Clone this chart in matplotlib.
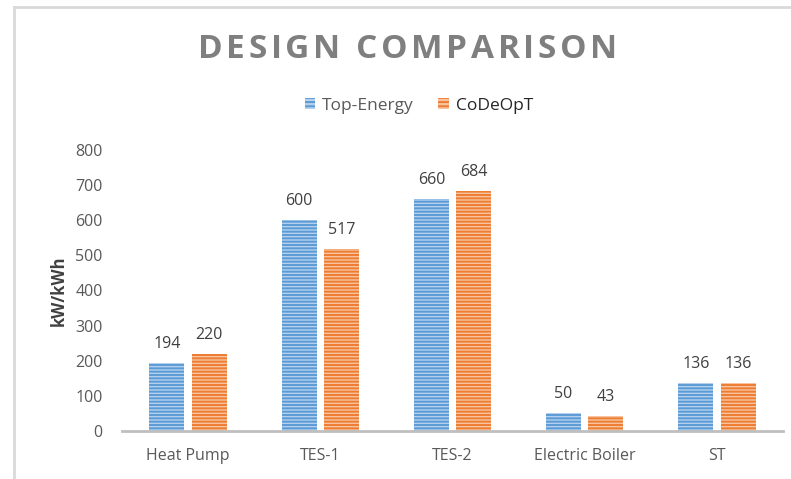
import matplotlib
matplotlib.use("Agg")
import matplotlib.pyplot as plt
from matplotlib.lines import Line2D
from matplotlib.patches import Patch
import numpy as np

categories = ["Heat Pump", "TES-1", "TES-2", "Electric Boiler", "ST"]
top_energy = [194, 600, 660, 50, 136]
codeopt = [220, 517, 684, 43, 136]
series_names = ["Top-Energy", "CoDeOpT"]
yticks = [0, 100, 200, 300, 400, 500, 600, 700, 800]
title = "DESIGN COMPARISON"

plt.rcParams['font.family'] = ['Open Sans', 'DejaVu Sans']
plt.rcParams['hatch.linewidth'] = 1.4

W, H = 791, 479
fig = plt.figure(figsize=(W/100, H/100), dpi=100)
ax = fig.add_axes([122/W, 1-431/H, (783-122)/W, (431-150)/H])

x = np.arange(len(categories))
off = 0.16
bw = 0.265
blue_face, blue_hatch = "#b4d0ee", "#5b9bd5"
orng_face, orng_hatch = "#f8c3a0", "#ed7d31"

b1 = ax.bar(x - off, top_energy, bw, facecolor=blue_face, edgecolor=blue_hatch,
            hatch='-----', linewidth=0)
b2 = ax.bar(x + off, codeopt, bw, facecolor=orng_face, edgecolor=orng_hatch,
            hatch='-----', linewidth=0)

for bars, vals in ((b1, top_energy), (b2, codeopt)):
    for r, v in zip(bars, vals):
        ax.annotate(str(v), (r.get_x() + r.get_width()/2, v), xytext=(0, 8),
                    textcoords='offset points', ha='center', va='bottom',
                    fontsize=11.5, color='#404040')

ax.set_xlim(-0.5, len(categories) - 0.5)
ax.set_ylim(0, 800)
ax.set_yticks(yticks)
ax.set_xticks(x)
ax.set_xticklabels(categories)
ax.tick_params(axis='both', length=0, labelsize=11.5, labelcolor='#595959')
ax.tick_params(axis='y', pad=14)
ax.tick_params(axis='x', pad=12)
for s in ['top', 'right', 'left']:
    ax.spines[s].set_visible(False)
ax.spines['bottom'].set_color('#bfbfbf')
ax.spines['bottom'].set_linewidth(2)
ax.set_ylabel("kW/kWh", fontsize=12, fontweight='bold', color='#404040', labelpad=5)

# Title with letter spacing, laid out character by character
renderer = fig.canvas.get_renderer()
tfs = 24
spacing = 3.6  # px
chars = []
widths = []
for ch in title:
    t = fig.text(0, 0, ch, fontsize=tfs, fontweight='bold', color='#7f7f7f',
                 ha='left', va='center')
    w = t.get_window_extent(renderer).width if ch != ' ' else None
    chars.append(t)
    widths.append(w)
space_w = fig.text(0, 0, "n n", fontsize=tfs, fontweight='bold').get_window_extent(renderer).width - \
    fig.text(0, 0, "nn", fontsize=tfs, fontweight='bold').get_window_extent(renderer).width
for t in fig.texts[-2:]:
    t.remove()
widths = [space_w if w is None else w for w in widths]
total = sum(widths) + spacing * (len(widths) - 1)
xc = 407.5
xp = xc - total / 2
yc = 1 - 49/H
for t, w in zip(chars, widths):
    t.set_position((xp / W, yc))
    xp += w + spacing

handles = [Patch(facecolor=blue_face, edgecolor=blue_hatch, hatch='----', linewidth=0),
           Patch(facecolor=orng_face, edgecolor=orng_hatch, hatch='----', linewidth=0)]
leg = fig.legend(handles, series_names, loc='center', bbox_to_anchor=(419/W, 1 - 106/H),
                 ncol=2, frameon=False, fontsize=12.5, handlelength=0.6, handleheight=0.6,
                 handletextpad=0.4, columnspacing=1.4)
leg.get_texts()[0].set_color('#595959')
leg.get_texts()[1].set_color('#262626')

fig.add_artist(Line2D([14/W, 1], [1 - 6.5/H, 1 - 6.5/H], color='#d9d9d9', lw=2,
                      transform=fig.transFigure))
fig.add_artist(Line2D([14/W, 14/W], [0, 1 - 6.5/H], color='#d9d9d9', lw=2,
                      transform=fig.transFigure))

fig.savefig("out.png", dpi=100)
